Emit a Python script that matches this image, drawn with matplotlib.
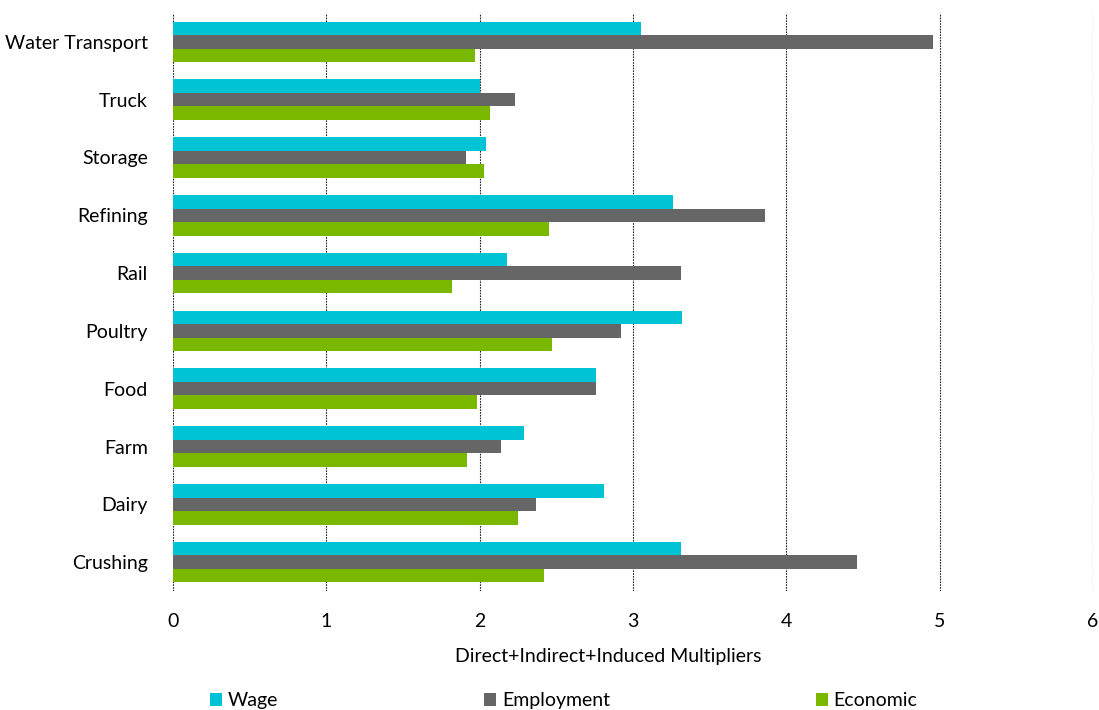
import numpy as np
import matplotlib
matplotlib.use("Agg")
import matplotlib.pyplot as plt

plt.rcParams['font.family'] = ['Lato', 'DejaVu Sans']

sectors = ['Crushing', 'Dairy', 'Farm', 'Food', 'Poultry',
           'Rail', 'Refining', 'Storage', 'Truck', 'Water Transport']
wage = [3.31, 2.81, 2.29, 2.76, 3.32, 2.18, 3.26, 2.04, 2.00, 3.05]
employment = [4.46, 2.37, 2.14, 2.76, 2.92, 3.31, 3.86, 1.91, 2.23, 4.96]
economic = [2.42, 2.25, 1.92, 1.98, 2.47, 1.82, 2.45, 2.03, 2.07, 1.97]

fig = plt.figure(figsize=(10.99, 7.10), dpi=100)
ax = fig.add_axes([0.1574, 0.1676, 0.8371, 0.8141])

y = np.arange(len(sectors))
h = 0.235
ax.barh(y + h, wage, height=h, color='#00C4D5', label='Wage', zorder=3)
ax.barh(y, employment, height=h, color='#666666', label='Employment', zorder=3)
ax.barh(y - h, economic, height=h, color='#7AB800', label='Economic', zorder=3)

fs = 14
ax.set_xlim(0, 6)
ax.set_ylim(-0.5, len(sectors) - 0.5)
ax.set_xticks(range(7))
ax.set_yticks(y)
ax.set_yticklabels(sectors)
ax.tick_params(axis='both', length=0, labelsize=fs, colors='#000000')
ax.tick_params(axis='x', pad=16)
ax.tick_params(axis='y', pad=18)
for s in ax.spines.values():
    s.set_visible(False)
ax.xaxis.grid(True, linestyle=(0, (1.5, 1)), color='#222222', linewidth=0.8, zorder=0)

ax.set_xlabel('Direct+Indirect+Induced Multipliers', fontsize=fs)
ax.xaxis.set_label_coords(0.473, -0.099)
ax.xaxis.label.set_va('top')

fig.legend(loc='center', bbox_to_anchor=(0.513, 0.013), ncol=3, frameon=False,
           fontsize=fs, handlelength=0.6, handleheight=0.6,
           handletextpad=0.3, columnspacing=10.6)

fig.savefig('out.png', dpi=100)
